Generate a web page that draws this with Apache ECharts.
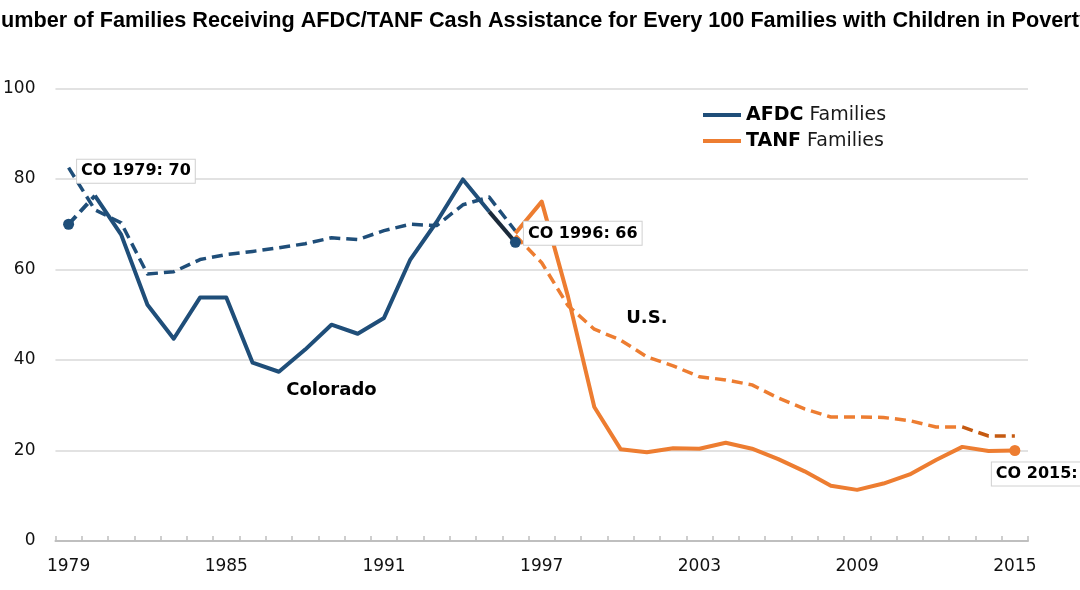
<!DOCTYPE html>
<html><head><meta charset="utf-8">
<script src="https://cdn.jsdelivr.net/npm/echarts@6/dist/echarts.min.js"></script>
<style>html,body{margin:0;padding:0;background:#fff}#c{width:1080px;height:590px}</style>
</head><body><div id="c"></div>
<script>
const titleText = 'Number of Families Receiving AFDC/TANF Cash Assistance for Every 100 Families with Children in Poverty';
const years = ['1979','1980','1981','1982','1983','1984','1985','1986','1987','1988','1989','1990','1991','1992','1993','1994','1995','1996','1997','1998','1999','2000','2001','2002','2003','2004','2005','2006','2007','2008','2009','2010','2011','2012','2013','2014','2015'];
const xTickLabels = ['1979','1985','1991','1997','2003','2009','2015'];
const yTicks = [0, 20, 40, 60, 80, 100];
// Colorado AFDC 1979-1996
const coAfdc = [70, 76.3, 67.7, 52.2, 44.7, 53.8, 53.8, 39.4, 37.4, 42.3, 47.8, 45.8, 49.3, 62.2, 70.5, 79.9, 72.8, 66];
// U.S. AFDC 1979-1996
const usAfdc = [82.5, 73.2, 70.3, 59, 59.5, 62.2, 63.3, 64, 64.8, 65.7, 67, 66.6, 68.6, 70, 69.7, 74.3, 76, 68.5];
// Colorado TANF 1996-2015
const coTanf = [68, 75, 54, 29.6, 20.3, 19.6, 20.5, 20.4, 21.7, 20.4, 18.1, 15.4, 12.2, 11.3, 12.7, 14.7, 17.9, 20.8, 19.9, 20];
// U.S. TANF 1996-2015
const usTanf = [67.5, 61.5, 52, 46.8, 44.4, 40.7, 38.7, 36.3, 35.6, 34.5, 31.6, 29.2, 27.4, 27.4, 27.3, 26.6, 25.2, 25.2, 23.2, 23.2];
const legendNames = ['AFDC Families', 'TANF Families'];
const notes = [
  {series: 'Colorado', year: '1989', value: 33.4},
  {series: 'U.S.', year: '2001', value: 49.3}
];

const NAVY = '#1f4e79', NAVY_DARK = '#1b2a3a', ORANGE = '#ed7d31', ORANGE_DARK = '#c55a11';
const FONT = 'DejaVu Sans';

function place(vals, firstYear, from, to) {
  const out = years.map(() => null);
  const off = years.indexOf(firstYear);
  vals.forEach((v, i) => {
    const y = +firstYear + i;
    if ((from == null || y >= from) && (to == null || y <= to)) out[off + i] = v;
  });
  return out;
}

function lineSeries(name, data, color, dashed, width) {
  return {
    name, type: 'line', data, symbol: 'none', connectNulls: false, silent: true,
    itemStyle: {color},
    lineStyle: {color, width: width || 4, type: dashed ? [11, 6] : 'solid', cap: 'butt', join: 'round'},
    z: dashed ? 2 : 3
  };
}

// title sizing
const ctx = document.createElement('canvas').getContext('2d');
const TFAM = '"Liberation Sans", Arial, sans-serif';
ctx.font = 'bold 100px ' + TFAM;
const visible = titleText.slice(1, titleText.length - 1);
const wVis = ctx.measureText(visible).width;
const tSize = 100 * 1079 / wVis;
ctx.font = 'bold ' + tSize + 'px ' + TFAM;
const wN = ctx.measureText(titleText.slice(0, 1)).width;
const titleX = 1 - wN;

const labelStyle = {
  show: true, position: 'right', distance: 3,
  fontFamily: FONT, fontWeight: 'bold', fontSize: 16, color: '#000',
  backgroundColor: '#fff', borderColor: '#d0d0d0', borderWidth: 1, padding: [4, 4, 3, 4]
};

const chart = echarts.init(document.getElementById('c'), null, {renderer: 'canvas'});
chart.setOption({
  animation: false,
  backgroundColor: '#fff',
  grid: {left: 55, right: 52, top: 88.5, bottom: 49},
  graphic: [{
    type: 'text', x: titleX, y: 21,
    style: {text: titleText, font: 'bold ' + tSize + 'px ' + TFAM, fill: '#000', textAlign: 'left', textVerticalAlign: 'middle'}
  }],
  legend: {
    data: legendNames, orient: 'vertical', left: 698, top: 99, itemGap: 4,
    icon: 'rect', itemWidth: 38, itemHeight: 4,
    formatter: n => { const p = n.split(' '); return '{b|' + p[0] + '} ' + p[1]; },
    textStyle: {fontFamily: FONT, fontSize: 19, color: '#1a1a1a', lineHeight: 22,
      rich: {b: {fontFamily: FONT, fontSize: 19, fontWeight: 'bold', color: '#000', lineHeight: 22}}}
  },
  xAxis: {
    type: 'category', data: years, boundaryGap: true,
    axisLine: {lineStyle: {color: '#bfbfbf', width: 2}},
    axisTick: {show: true, inside: true, length: 5, interval: 0, lineStyle: {color: '#bfbfbf', width: 1.5}},
    axisLabel: {interval: (i, v) => xTickLabels.includes(v), fontFamily: FONT, fontSize: 17, color: '#111', margin: 17},
    splitLine: {show: false}
  },
  yAxis: {
    type: 'value', min: yTicks[0], max: yTicks[yTicks.length - 1], interval: 20,
    axisLine: {show: false}, axisTick: {show: false},
    axisLabel: {fontFamily: FONT, fontSize: 17, color: '#111', margin: 20},
    splitLine: {lineStyle: {color: '#d9d9d9', width: 1.5}}
  },
  series: [
    lineSeries('U.S. AFDC', place(usAfdc, '1979'), NAVY, true, 3.5),
    lineSeries('U.S. TANF', place(usTanf, '1996', 1996, 2013), ORANGE, true, 3.5),
    lineSeries('U.S. TANF recent', place(usTanf, '1996', 2013, 2015), ORANGE_DARK, true, 3.5),
    lineSeries('CO AFDC 1979', place(coAfdc, '1979', 1979, 1980), NAVY, true, 4),
    Object.assign(lineSeries('AFDC Families', place(coAfdc, '1979', 1980, 1995), NAVY, false, 4), {
      markPoint: {
        symbol: 'circle', symbolSize: 0, silent: true,
        label: {show: true, position: 'inside', fontFamily: FONT, fontWeight: 'bold', fontSize: 18, color: '#000', formatter: p => p.name},
        data: notes.map(n => ({name: n.series, coord: [n.year, n.value]}))
      }
    }),
    lineSeries('CO AFDC end', place(coAfdc, '1979', 1995, 1996), NAVY_DARK, false, 4),
    lineSeries('TANF Families', place(coTanf, '1996'), ORANGE, false, 4),
    {
      name: 'CO AFDC points', type: 'scatter', symbol: 'circle', symbolSize: 11, z: 5, silent: true,
      itemStyle: {color: NAVY, opacity: 1},
      data: [
        {value: ['1979', coAfdc[0]], label: Object.assign({}, labelStyle, {offset: [0, -53], formatter: 'CO 1979: ' + Math.round(coAfdc[0])})},
        {value: ['1996', coAfdc[coAfdc.length - 1]], label: Object.assign({}, labelStyle, {offset: [0, -9], formatter: 'CO 1996: ' + Math.round(coAfdc[coAfdc.length - 1])})}
      ]
    },
    {
      name: 'CO TANF point', type: 'scatter', symbol: 'circle', symbolSize: 11, z: 5, silent: true,
      itemStyle: {color: ORANGE, opacity: 1},
      data: [
        {value: ['2015', coTanf[coTanf.length - 1]], label: Object.assign({}, labelStyle, {offset: [-31.5, 23.5], formatter: 'CO 2015: ' + Math.round(coTanf[coTanf.length - 1])})}
      ]
    }
  ]
});
</script></body></html>
